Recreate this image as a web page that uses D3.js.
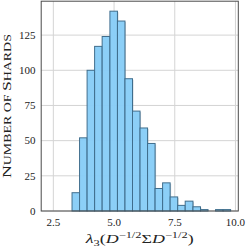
<!DOCTYPE html>
<html><head><meta charset="utf-8">
<script src="https://cdn.jsdelivr.net/npm/d3@7"></script>
<style>html,body{margin:0;padding:0;background:#fff}svg{display:block}</style>
</head><body>
<svg id="c" width="249" height="249"></svg>
<script>
const binEdges = [3.27, 3.58, 3.89, 4.20, 4.51, 4.83, 5.14, 5.45, 5.76, 6.07, 6.38, 6.69, 7.00, 7.31, 7.62, 7.93, 8.25, 8.56, 8.87, 9.18, 9.49, 9.80];
const counts = [13, 52, 100, 117, 124, 142, 135, 94, 71, 59, 48, 16, 20, 10, 4, 7, 3, 1, 0, 1, 1];
const xTicks = [2.5, 5.0, 7.5, 10.0];
const yTicks = [0, 25, 50, 75, 100, 125];
const xDomain = [2.0, 10.117];
const yDomain = [0, 149.1];

const svg = d3.select("#c");
const L = 41.2, R = 238.3, T = 1.2, B = 211;
const x = d3.scaleLinear().domain(xDomain).range([L, R]);
const y = d3.scaleLinear().domain(yDomain).range([B, T]);
const serif = "'Liberation Serif', 'DejaVu Serif', serif";

const bins = counts.map((c, i) => ({x0: binEdges[i], x1: binEdges[i + 1], c}));

// grid
const g = svg.append("g");
g.selectAll(".gx").data(xTicks).join("line")
  .attr("x1", d => x(d)).attr("x2", d => x(d)).attr("y1", T).attr("y2", B)
  .attr("stroke", "#d4d4d4").attr("stroke-width", 1);
g.selectAll(".gy").data(yTicks).join("line")
  .attr("x1", L).attr("x2", R).attr("y1", d => y(d)).attr("y2", d => y(d))
  .attr("stroke", "#d4d4d4").attr("stroke-width", 1);

// shadow
svg.append("g").selectAll("rect").data(bins.filter(b => b.c > 0)).join("rect")
  .attr("x", d => x(d.x0) + 1).attr("y", d => y(d.c) + 1)
  .attr("width", d => x(d.x1) - x(d.x0)).attr("height", d => B - y(d.c) - 1)
  .attr("fill", "#9aa9b4").attr("opacity", 0.5);

// bars
svg.append("g").selectAll("rect").data(bins.filter(b => b.c > 0)).join("rect")
  .attr("x", d => x(d.x0)).attr("y", d => y(d.c))
  .attr("width", d => x(d.x1) - x(d.x0)).attr("height", d => B - y(d.c))
  .attr("fill", "#87cefa").attr("fill-opacity", 0.92)
  .attr("stroke", "#3f6d8c").attr("stroke-width", 1);

// frame
svg.append("rect").attr("x", L).attr("y", T).attr("width", R - L).attr("height", B - T)
  .attr("fill", "none").attr("stroke", "#4a4a4a").attr("stroke-width", 1);

// tick labels
svg.append("g").selectAll("text").data(yTicks).join("text")
  .attr("x", 35.5).attr("y", d => y(d)).attr("dy", "0.35em")
  .attr("text-anchor", "end").attr("font-family", serif).attr("font-size", 11)
  .attr("fill", "#222").text(d => d);
svg.append("g").selectAll("text").data(xTicks).join("text")
  .attr("x", d => x(d)).attr("y", 225.5)
  .attr("text-anchor", "middle").attr("font-family", serif).attr("font-size", 11)
  .attr("fill", "#222").text(d => d.toFixed(1));

// y label (small caps)
const ylg = svg.append("g").attr("transform", `translate(11,${(T + B) / 2}) rotate(-90)`);
const yl = ylg.append("text").attr("text-anchor", "middle").attr("font-family", serif).attr("fill", "#222");
[["N", 13], ["UMBER OF ", 10.2], ["S", 13], ["HARDS", 10.2]].forEach(([t, s]) =>
  yl.append("tspan").attr("font-size", s).text(t));
const ylLen = yl.node().getComputedTextLength();
yl.attr("transform", `scale(${144 / ylLen},1)`);

// x label (math)
const xlg = svg.append("g").attr("transform", `translate(${(L + R) / 2},243)`);
const xl = xlg.append("text")
  .attr("text-anchor", "middle").attr("font-family", serif).attr("font-size", 13).attr("fill", "#222");
xl.append("tspan").attr("font-style", "italic").text("λ");
xl.append("tspan").attr("font-size", 9).attr("dy", 2.5).text("3");
xl.append("tspan").attr("dy", -2.5).text("(");
xl.append("tspan").attr("font-style", "italic").text("D");
xl.append("tspan").attr("font-size", 9).attr("dy", -5).text("−1/2");
xl.append("tspan").attr("dy", 5).text("Σ");
xl.append("tspan").attr("font-style", "italic").text("D");
xl.append("tspan").attr("font-size", 9).attr("dy", -5).text("−1/2");
xl.append("tspan").attr("dy", 5).text(")");
const xlLen = xl.node().getComputedTextLength();
xl.attr("transform", `scale(${108 / xlLen},1)`);
</script>
</body></html>
